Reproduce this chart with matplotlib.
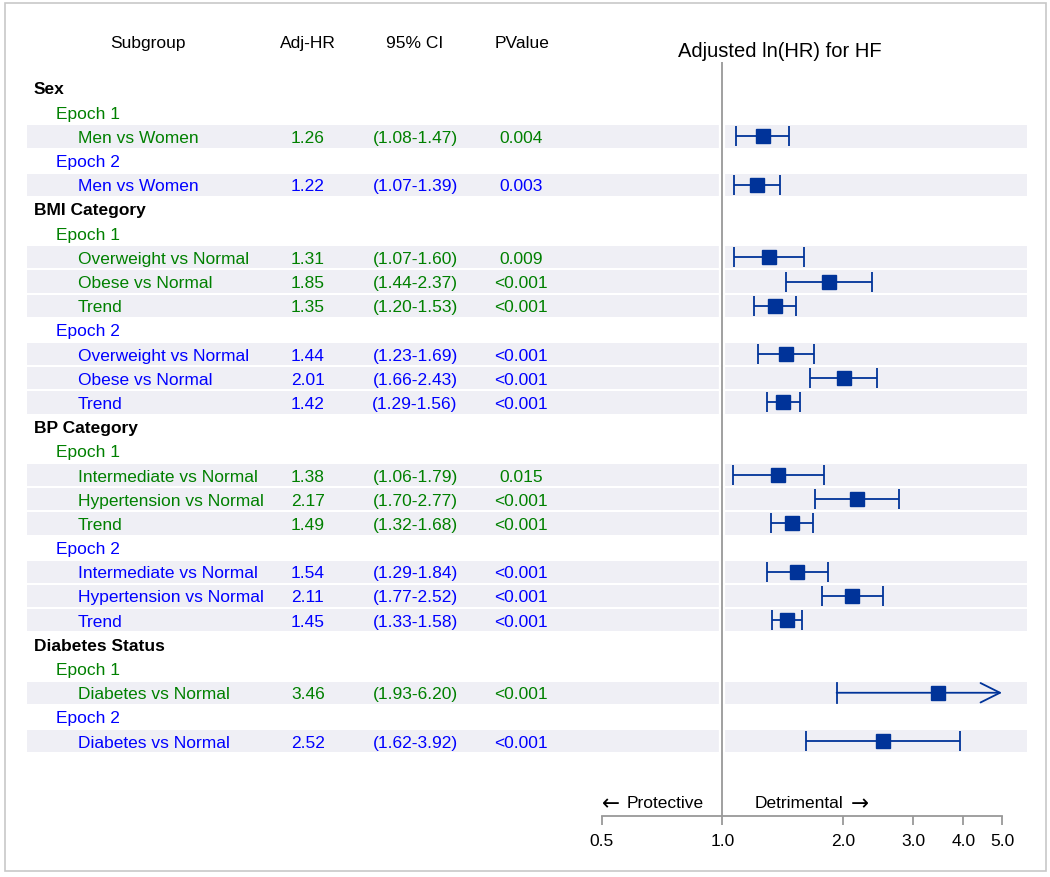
import matplotlib.pyplot as plt
import matplotlib.transforms as mtransforms
from matplotlib.patches import Rectangle

plt.rcParams['font.family'] = ['Liberation Sans', 'DejaVu Sans']

# Data
row_category = ["Sex", "Sex",
                "BMI Category", "BMI Category", "BMI Category",
                "BMI Category", "BMI Category", "BMI Category",
                "BP Category", "BP Category", "BP Category",
                "BP Category", "BP Category", "BP Category",
                "Diabetes Status", "Diabetes Status"]
row_epoch = ["Epoch 1", "Epoch 2",
             "Epoch 1", "Epoch 1", "Epoch 1", "Epoch 2", "Epoch 2", "Epoch 2",
             "Epoch 1", "Epoch 1", "Epoch 1", "Epoch 2", "Epoch 2", "Epoch 2",
             "Epoch 1", "Epoch 2"]
row_label = ["Men vs Women", "Men vs Women",
             "Overweight vs Normal", "Obese vs Normal", "Trend",
             "Overweight vs Normal", "Obese vs Normal", "Trend",
             "Intermediate vs Normal", "Hypertension vs Normal", "Trend",
             "Intermediate vs Normal", "Hypertension vs Normal", "Trend",
             "Diabetes vs Normal", "Diabetes vs Normal"]
hr = [1.26, 1.22, 1.31, 1.85, 1.35, 1.44, 2.01, 1.42,
      1.38, 2.17, 1.49, 1.54, 2.11, 1.45, 3.46, 2.52]
ci_lo = [1.08, 1.07, 1.07, 1.44, 1.20, 1.23, 1.66, 1.29,
         1.06, 1.70, 1.32, 1.29, 1.77, 1.33, 1.93, 1.62]
ci_hi = [1.47, 1.39, 1.60, 2.37, 1.53, 1.69, 2.43, 1.56,
         1.79, 2.77, 1.68, 1.84, 2.52, 1.58, 6.20, 3.92]
p_text = ["0.004", "0.003", "0.009", "<0.001", "<0.001", "<0.001", "<0.001", "<0.001",
          "0.015", "<0.001", "<0.001", "<0.001", "<0.001", "<0.001", "<0.001", "<0.001"]

x_ticks = [0.5, 1.0, 2.0, 3.0, 4.0, 5.0]
x_tick_labels = ["0.5", "1.0", "2.0", "3.0", "4.0", "5.0"]

epoch_colors = {"Epoch 1": "#008000", "Epoch 2": "#0000ff"}
mark_color = "#003399"
band_color = "#efeff5"
FS = 12.5

W, H = 1050, 878
fig = plt.figure(figsize=(W / 100, H / 100), dpi=100)

# forest axes: x from 0.5 (px 602) to 5.77 (px 1027), rows 24.19 px apart
row_px = 24.19
y0_px = 89
top_px, bot_px = 63, 817
ax = fig.add_axes([602 / W, 1 - bot_px / H, (1027 - 602) / W, (bot_px - top_px) / H])
ax.set_xscale('log')
ax.set_xlim(0.5, 0.5 * 10 ** ((1027 - 602) / 400))
ax.set_ylim((bot_px - y0_px) / row_px, (top_px - y0_px) / row_px)
ax.patch.set_alpha(0)

# figure-x / data-y transform for the table part
tr = mtransforms.blended_transform_factory(fig.transFigure, ax.transData)

def fx(px):
    return px / W

# build the table rows
rows = []
prev_cat, prev_ep = None, None
for i in range(len(hr)):
    if row_category[i] != prev_cat:
        rows.append(("cat", row_category[i], None))
        prev_cat, prev_ep = row_category[i], None
    if row_epoch[i] != prev_ep:
        rows.append(("epoch", row_epoch[i], None))
        prev_ep = row_epoch[i]
    rows.append(("data", row_label[i], i))

# headers
ax.text(fx(148), -1.9, "Subgroup", transform=tr, ha='center', va='center', fontsize=FS, clip_on=False)
ax.text(fx(308), -1.9, "Adj-HR", transform=tr, ha='center', va='center', fontsize=FS, clip_on=False)
ax.text(fx(415), -1.9, "95% CI", transform=tr, ha='center', va='center', fontsize=FS, clip_on=False)
ax.text(fx(522), -1.9, "PValue", transform=tr, ha='center', va='center', fontsize=FS, clip_on=False)
ax.text(fx(780), -1.57, "Adjusted ln(HR) for HF", transform=tr, ha='center', va='center',
        fontsize=14.5, clip_on=False)

dy = 0.04  # small nudge so text sits like the reference
x_max = x_ticks[-1]
for r, (kind, text, i) in enumerate(rows):
    if kind == "cat":
        ax.text(fx(34), r + dy, text, transform=tr, ha='left', va='center', fontsize=FS,
                fontweight='bold', clip_on=False)
        continue
    if kind == "epoch":
        ax.text(fx(56), r + dy, text, transform=tr, ha='left', va='center', fontsize=FS,
                color=epoch_colors[text], clip_on=False)
        continue
    c = epoch_colors[row_epoch[i]]
    # shaded band
    ax.add_patch(Rectangle((fx(27), r - 0.46), fx(1027) - fx(27), 0.92, transform=tr,
                           facecolor=band_color, edgecolor='none', zorder=0, clip_on=False))
    ax.text(fx(78), r + dy, text, transform=tr, ha='left', va='center', fontsize=FS, color=c,
            clip_on=False)
    ax.text(fx(308), r + dy, f"{hr[i]:.2f}", transform=tr, ha='center', va='center', fontsize=FS,
            color=c, clip_on=False)
    ax.text(fx(415), r + dy, f"({ci_lo[i]:.2f}-{ci_hi[i]:.2f})", transform=tr, ha='center',
            va='center', fontsize=FS, color=c, clip_on=False)
    ax.text(fx(521), r + dy, p_text[i], transform=tr, ha='center', va='center', fontsize=FS,
            color=c, clip_on=False)
    # CI and marker
    if ci_hi[i] > x_max:
        ax.plot([ci_lo[i], ci_lo[i]], [r - 0.41, r + 0.41], color=mark_color, lw=1.3, zorder=4)
        ax.annotate('', xy=(x_max, r), xytext=(ci_lo[i], r),
                    arrowprops=dict(arrowstyle='->,head_length=1.4,head_width=0.7',
                                    color=mark_color, lw=1.3, shrinkA=0, shrinkB=0), zorder=4)
        ax.plot([hr[i]], [r], marker='s', ms=9.5, color=mark_color, zorder=5)
    else:
        ax.errorbar(hr[i], r, xerr=[[hr[i] - ci_lo[i]], [ci_hi[i] - hr[i]]], fmt='s', ms=9.5,
                    color=mark_color, ecolor=mark_color, elinewidth=1.3, capsize=7.2,
                    capthick=1.3, zorder=4)

# reference line with a white gap through the bands
ax.axvline(1.0, color='white', lw=4.5, zorder=2)
ax.axvline(1.0, color='#999999', lw=1.3, zorder=3)

# direction labels (arrows in DejaVu, words in Liberation)
lab_row = (804 - y0_px) / row_px
ax.annotate("Protective", xy=(1.0, lab_row), xytext=(-13.5, 0), textcoords='offset points',
            ha='right', va='center', fontsize=FS, annotation_clip=False)
ax.annotate("\u2190", xy=(1.0, lab_row), xytext=(-73.5, 0), textcoords='offset points',
            ha='right', va='center', fontsize=15.5, family='DejaVu Sans', annotation_clip=False)
ax.annotate("Detrimental", xy=(1.0, lab_row), xytext=(23, 0), textcoords='offset points',
            ha='left', va='center', fontsize=FS, annotation_clip=False)
ax.annotate("\u2192", xy=(1.0, lab_row), xytext=(92.5, 0), textcoords='offset points',
            ha='left', va='center', fontsize=15.5, family='DejaVu Sans', annotation_clip=False)

# axis styling
for s in ['top', 'right', 'left']:
    ax.spines[s].set_visible(False)
ax.spines['bottom'].set_bounds(x_ticks[0], x_ticks[-1])
ax.spines['bottom'].set_color('#999999')
ax.spines['bottom'].set_linewidth(1.3)
ax.set_xticks(x_ticks)
ax.set_xticklabels(x_tick_labels, fontsize=FS)
ax.minorticks_off()
ax.tick_params(axis='x', which='major', length=6.5, width=1.3, color='#999999', pad=5.5)
ax.set_yticks([])

# outer border
fig.patches.append(Rectangle((fx(5), 1 - 872 / H), fx(1046) - fx(5), (872 - 4) / H,
                             transform=fig.transFigure, facecolor='none',
                             edgecolor='#c8c8c8', lw=1.2, zorder=0))

fig.savefig("out.png", dpi=100)
plt.close(fig)
